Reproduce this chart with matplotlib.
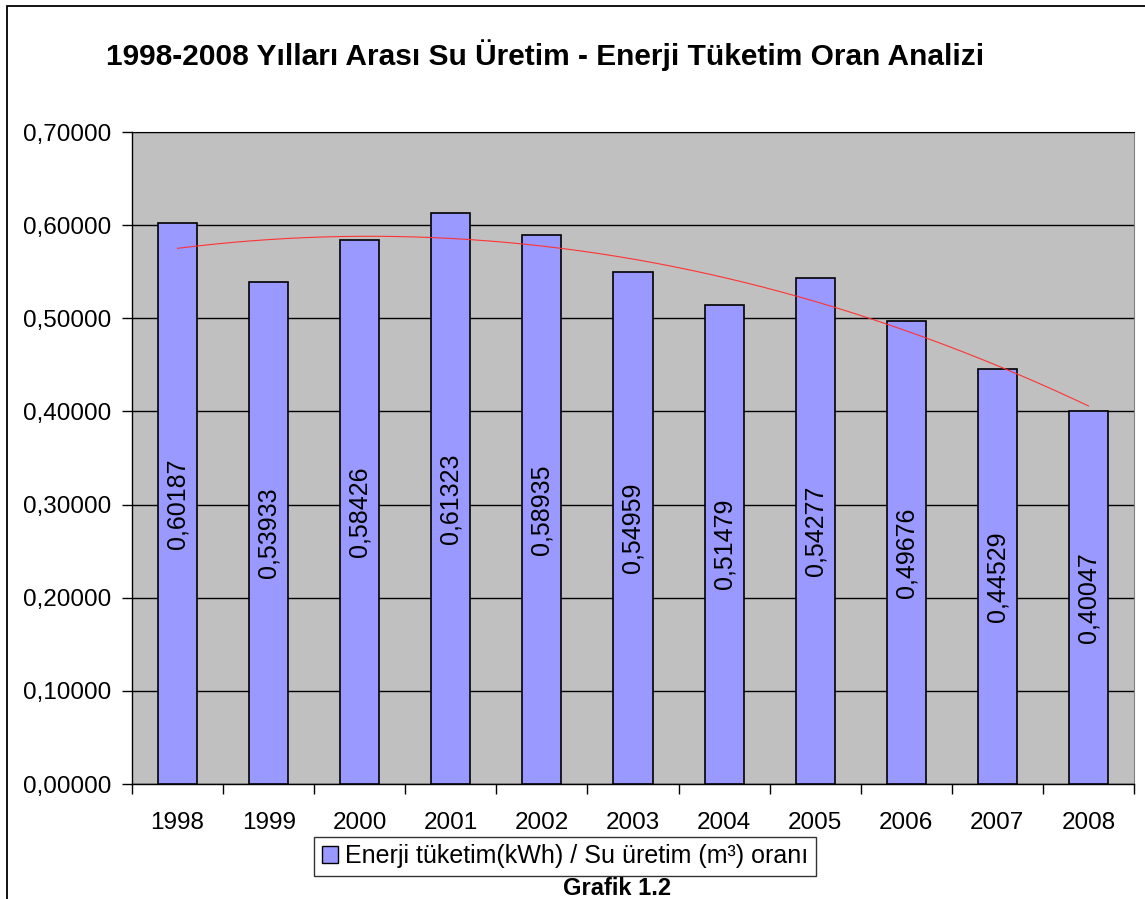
import numpy as np
import matplotlib
matplotlib.use("Agg")
import matplotlib.pyplot as plt
from matplotlib.patches import Rectangle, Patch

plt.rcParams['font.family'] = ['Liberation Sans', 'DejaVu Sans']

# --------- Data ---------
years = ["1998", "1999", "2000", "2001", "2002", "2003",
         "2004", "2005", "2006", "2007", "2008"]
ratio = [0.60187, 0.53933, 0.58426, 0.61323, 0.58935, 0.54959,
         0.51479, 0.54277, 0.49676, 0.44529, 0.40047]
labels = ["0,60187", "0,53933", "0,58426", "0,61323", "0,58935", "0,54959",
          "0,51479", "0,54277", "0,49676", "0,44529", "0,40047"]
yticks = [0.0, 0.1, 0.2, 0.3, 0.4, 0.5, 0.6, 0.7]
ytick_labels = ["0,00000", "0,10000", "0,20000", "0,30000",
                "0,40000", "0,50000", "0,60000", "0,70000"]

W, H = 1145, 899
fig = plt.figure(figsize=(W/100, H/100), dpi=100)
fig.patch.set_facecolor("white")

# outer chart frame (right and bottom edges fall outside the image)
fig.add_artist(Rectangle((7/W, -0.05), 1.1, 1 - 6/H + 0.05, transform=fig.transFigure,
                         fill=False, edgecolor="black", linewidth=1.3))

ax = fig.add_axes([132/W, 1 - 784/H, (1134 - 132)/W, (784 - 132)/H])
ax.set_facecolor("#C0C0C0")

x = np.arange(len(years))
ax.bar(x, ratio, width=0.43, color="#9999FF", edgecolor="black", linewidth=1.2, zorder=3)

# value labels, rotated and centred in each bar
for xi, v, lab in zip(x, ratio, labels):
    ax.text(xi, v/2, lab, rotation=90, ha="center", va="center", fontsize=18, zorder=4)

# polynomial trend line
coef = np.polyfit(x, ratio, 2)
xs = np.linspace(x[0], x[-1], 200)
ax.plot(xs, np.polyval(coef, xs), color="#FF3333", linewidth=0.8, zorder=5)

ax.set_xlim(-0.5, len(years) - 0.5)
ax.set_ylim(0, 0.7)
ax.set_yticks(yticks)
ax.set_yticklabels(ytick_labels, fontsize=17.5)
ax.yaxis.grid(True, color="black", linewidth=1.0, zorder=1)
ax.set_axisbelow(True)

ax.set_xticks(x)
ax.set_xticklabels(years, fontsize=17.5)
ax.tick_params(axis="x", length=0, pad=20.5)
ax.set_xticks(np.arange(-0.5, len(years)), minor=True)
ax.tick_params(axis="x", which="minor", length=7, width=1.0, direction="out")
ax.tick_params(axis="y", length=7, width=1.0, direction="out", pad=8)

for side in ["left", "bottom"]:
    ax.spines[side].set_color("black")
    ax.spines[side].set_linewidth(1.0)
ax.spines["top"].set_color("black")
ax.spines["right"].set_color("#808080")

fig.text(545/W, 1 - 55/H, "1998-2008 Yılları Arası Su Üretim - Enerji Tüketim Oran Analizi",
         ha="center", va="center", fontsize=21.5, fontweight="bold")

handle = Patch(facecolor="#9999FF", edgecolor="black", linewidth=1.0)
leg = fig.legend([handle], ["Enerji tüketim(kWh) / Su üretim (m³) oranı"],
                 loc="center", bbox_to_anchor=(565/W, 1 - 856.5/H), fontsize=18,
                 frameon=True, fancybox=False, edgecolor="black",
                 handlelength=0.65, handleheight=0.65, handletextpad=0.3,
                 borderpad=0.3, borderaxespad=0)
leg.get_frame().set_linewidth(1.0)

fig.text(617/W, 1 - 895/H, "Grafik 1.2", ha="center", va="baseline",
         fontsize=17, fontweight="bold")

fig.savefig("out.png", dpi=100)
